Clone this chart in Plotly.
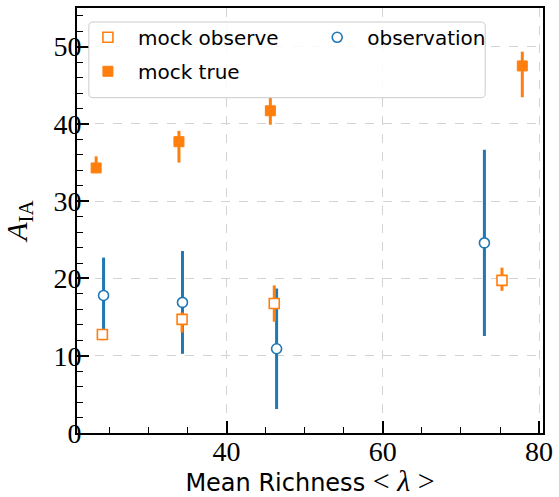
import plotly.graph_objects as go

# Data
obs_x = [24.25, 34.35, 46.4, 73.0]
obs_y = [17.8, 16.9, 10.9, 24.6]
obs_err = [4.9, 6.65, 7.8, 12.05]

mobs_x = [24.1, 34.3, 46.1, 75.25]
mobs_y = [12.75, 14.7, 16.75, 19.75]
mobs_err_up = [0.6, 0.9, 2.35, 1.65]
mobs_err_dn = [0.75, 1.7, 2.35, 1.35]

mtrue_x = [23.3, 33.9, 45.6, 77.85]
mtrue_y = [34.3, 37.7, 41.7, 47.5]
mtrue_err_up = [1.5, 1.4, 1.7, 1.85]
mtrue_err_dn = [0.6, 2.7, 1.8, 4.05]

BLUE = "#1f77b4"
ORANGE = "#ff7f0e"
SERIF = "Liberation Serif"
SANS = "DejaVu Sans"

fig = go.Figure()

fig.add_trace(go.Scatter(
    x=obs_x, y=obs_y, mode="markers", name="observation", legend="legend2",
    legendgroup="obs",
    marker=dict(symbol="circle", size=10, color="white", line=dict(color=BLUE, width=1.6)),
    error_y=dict(type="data", array=obs_err, color=BLUE, thickness=3, width=0),
))
fig.add_trace(go.Scatter(
    x=mobs_x, y=mobs_y, mode="markers", name="mock observe", legend="legend",
    legendgroup="mobs", legendrank=1,
    marker=dict(symbol="square", size=10, color="white", line=dict(color=ORANGE, width=1.6)),
    error_y=dict(type="data", symmetric=False, array=mobs_err_up, arrayminus=mobs_err_dn,
                 color=ORANGE, thickness=3, width=0),
))
fig.add_trace(go.Scatter(
    x=mtrue_x, y=mtrue_y, mode="markers", name="mock true", legend="legend",
    legendgroup="mtrue", legendrank=2,
    marker=dict(symbol="square", size=10, color=ORANGE, line=dict(color=ORANGE, width=1)),
    error_y=dict(type="data", symmetric=False, array=mtrue_err_up, arrayminus=mtrue_err_dn,
                 color=ORANGE, thickness=3, width=0),
))

axis_common = dict(
    showline=True, linecolor="black", linewidth=2, mirror=True,
    ticks="inside", ticklen=12, tickwidth=1.5, tickcolor="black",
    showgrid=True, gridcolor="#d3d3d3", griddash="dash", gridwidth=1,
    zeroline=False, ticklabeloverflow="allow",
    tickfont=dict(family=SERIF, size=28, color="black"),
)

fig.update_xaxes(
    range=[20.85, 80.5], dtick=20, tick0=0,
    minor=dict(dtick=5, ticks="inside", ticklen=6, tickwidth=1.2, tickcolor="black", showgrid=False),
    ticklabelstandoff=-8,
    title=dict(text="Mean Richness <span style='font-family:Liberation Serif;font-size:30px'>&lt;&nbsp;<i>λ</i>&nbsp;&gt;</span>",
               font=dict(family=SANS, size=24, color="black"), standoff=4),
    **axis_common,
)
fig.update_yaxes(
    range=[0, 55], dtick=10, tick0=0,
    minor=dict(dtick=2, ticks="inside", ticklen=6, tickwidth=1.2, tickcolor="black", showgrid=False),
    ticklabelstandoff=-12,
    title=dict(text="<i>A</i><sub>IA</sub>", font=dict(family=SERIF, size=30, color="black"), standoff=18),
    **axis_common,
)

# rounded legend frame (paper coordinates)
x0, x1, y0, y1 = 0.0254, 0.876, 0.789, 0.967
rx, ry = 0.009, 0.010
frame = (f"M {x0+rx},{y0} L {x1-rx},{y0} Q {x1},{y0} {x1},{y0+ry} "
         f"L {x1},{y1-ry} Q {x1},{y1} {x1-rx},{y1} L {x0+rx},{y1} Q {x0},{y1} {x0},{y1-ry} "
         f"L {x0},{y0+ry} Q {x0},{y0} {x0+rx},{y0} Z")
fig.add_shape(type="path", path=frame, xref="paper", yref="paper", layer="above",
              fillcolor="rgba(255,255,255,0.85)", line=dict(color="#cccccc", width=1))

leg_common = dict(
    orientation="v", yanchor="top", xanchor="left",
    bgcolor="rgba(0,0,0,0)", borderwidth=0, itemwidth=50, tracegroupgap=5,
    font=dict(family=SANS, size=20, color="black"),
)

fig.update_layout(
    width=559, height=497,
    margin=dict(l=77, r=10, t=6, b=64),
    plot_bgcolor="white", paper_bgcolor="white",
    showlegend=True,
    legend=dict(x=0.002, y=0.977, **leg_common),
    legend2=dict(x=0.494, y=0.977, **leg_common),
)

fig.write_html("out.html")
